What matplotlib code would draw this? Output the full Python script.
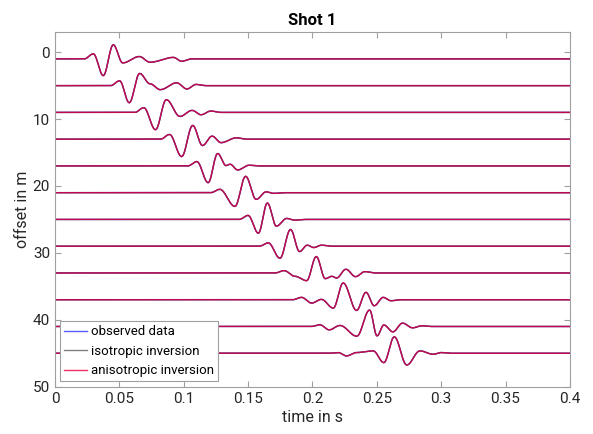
import numpy as np
import matplotlib
matplotlib.use("Agg")
import matplotlib.pyplot as plt
from matplotlib.ticker import FuncFormatter

plt.rcParams['font.family'] = ['Roboto', 'DejaVu Sans']

# receiver offsets (m)
offsets = [1, 5, 9, 13, 17, 21, 25, 29, 33, 37, 41, 45]

# extrema of every trace: times (s) and amplitudes (m, + = up)
peak_times = [
    [0.0298, 0.0375, 0.0453, 0.0526, 0.0655, 0.0738, 0.0920, 0.0984],
    [0.0502, 0.0577, 0.0658, 0.0738, 0.0818, 0.0945, 0.1025, 0.1095],
    [0.0690, 0.0781, 0.0865, 0.0971, 0.1065, 0.1135, 0.1210],
    [0.0890, 0.0984, 0.1070, 0.1146, 0.1221, 0.1290, 0.1410],
    [0.1102, 0.1190, 0.1264, 0.1329, 0.1360, 0.1420, 0.1507],
    [0.1280, 0.1398, 0.1481, 0.1563, 0.1640, 0.1700],
    [0.1500, 0.1580, 0.1650, 0.1720, 0.1800, 0.1860],
    [0.1657, 0.1748, 0.1830, 0.1900, 0.1960, 0.2010, 0.2070],
    [0.1780, 0.1864, 0.1955, 0.2030, 0.2100, 0.2150, 0.2188, 0.2260, 0.2335, 0.2408],
    [0.1916, 0.1994, 0.2070, 0.2162, 0.2239, 0.2343, 0.2416, 0.2480, 0.2550, 0.2610],
    [0.2058, 0.2130, 0.2214, 0.2345, 0.2444, 0.2502, 0.2555, 0.2625, 0.2700, 0.2778, 0.2850],
    [0.2200, 0.2265, 0.2340, 0.2472, 0.2555, 0.2636, 0.2733, 0.2835, 0.2938, 0.3000],
]
peak_amps = [
    [0.75, -2.5, 2.1, -0.6, 0.35, -0.5, 0.22, -0.35],
    [0.72, -2.55, 1.82, 0.28, -0.6, 0.42, -0.5, 0.18],
    [0.70, -2.58, 1.9, -0.6, 0.3, -0.35, 0.2],
    [0.70, -2.6, 2.05, -0.95, 0.45, -0.52, 0.2],
    [0.65, -2.5, 1.85, 0.05, 0.25, -0.6, 0.1],
    [0.50, -2.05, 2.44, -1.0, 0.12, -0.1],
    [0.60, -2.05, 2.45, -1.0, 0.15, -0.1],
    [0.50, -1.8, 2.5, -0.8, 0.15, -0.2, 0.15],
    [0.35, -0.5, -1.15, 2.45, -0.85, -0.5, -0.75, 0.55, -0.55, 0.2],
    [0.35, -0.5, 0.05, -1.25, 2.5, -1.6, 1.1, -0.9, 0.35, -0.15],
    [0.25, -0.5, 0.15, -1.45, 2.45, -1.4, 0.22, -0.8, 0.5, -0.2, 0.1],
    [0.10, -0.4, 0.1, 0.35, -1.4, 2.45, -1.75, 0.35, -0.15, 0.1],
]

t = np.linspace(0, 0.4, 2001)


def trace(times, amps):
    # smooth half-cosine segments through the picked extrema
    tt = [times[0] - 0.007] + list(times) + [times[-1] + 0.008]
    aa = [0.0] + list(amps) + [0.0]
    y = np.zeros_like(t)
    for i in range(len(tt) - 1):
        m = (t >= tt[i]) & (t < tt[i + 1])
        s = (t[m] - tt[i]) / (tt[i + 1] - tt[i])
        y[m] = aa[i] + (aa[i + 1] - aa[i]) * (1 - np.cos(np.pi * s)) / 2
    return y


fig = plt.figure(figsize=(5.93, 4.34), dpi=100)
ax = fig.add_axes([0.0927, 0.109, 0.8683, 0.817])

series = [
    ("observed data", "#0000ff", 0.65),
    ("isotropic inversion", "#000000", 0.5),
    ("anisotropic inversion", "#e8003c", 0.8),
]
for name, col, al in series:
    for k, off in enumerate(offsets):
        y = off - trace(peak_times[k], peak_amps[k])
        ax.plot(t, y, color=col, alpha=al, lw=1.0,
                label=name if k == 0 else None)

ax.set_xlim(0, 0.4)
ax.set_ylim(50, -3)
ax.set_xticks(np.arange(0, 0.401, 0.05))
ax.set_yticks([0, 10, 20, 30, 40, 50])
ax.xaxis.set_major_formatter(FuncFormatter(lambda v, p: f"{v:g}"))
ax.tick_params(direction="in", top=True, right=True, length=4,
               color="#a0a0a0", labelsize=11, labelcolor="#262626")
for sp in ax.spines.values():
    sp.set_color("#a0a0a0")
    sp.set_linewidth(0.8)

ax.set_xlabel("time in s", fontsize=11.5, color="#262626", labelpad=3)
ax.set_ylabel("offset in m", fontsize=11.5, color="#262626", labelpad=2)
ax.set_title("Shot 1", fontsize=12, fontweight="bold", pad=5)

leg = ax.legend(loc="lower left", fontsize=9.5, fancybox=False, framealpha=1,
                edgecolor="#a0a0a0", handlelength=1.7, handletextpad=0.3,
                borderpad=0.3, labelspacing=0.5, borderaxespad=0.4)
leg.get_frame().set_linewidth(0.8)

fig.savefig("out.png", dpi=100)
